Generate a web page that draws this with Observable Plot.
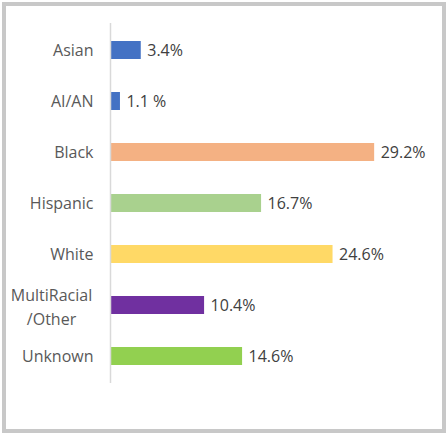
<!DOCTYPE html>
<html>
<head>
<meta charset="utf-8">
<script src="https://cdn.jsdelivr.net/npm/d3@7"></script>
<script src="https://cdn.jsdelivr.net/npm/@observablehq/plot@0.6"></script>
<style>
  html, body { margin: 0; padding: 0; background: #fff; }
  #wrap { position: relative; width: 446px; height: 434px; }
  #border { position: absolute; left: 2px; top: 2px; width: 436px; height: 423px; border: 4px solid #c8c8c8; }
  #chart { position: absolute; left: 0; top: 0; }
</style>
</head>
<body>
<div id="wrap"><div id="border"></div><div id="chart"></div></div>
<script>
const categories = ["Asian", "AI/AN", "Black", "Hispanic", "White", "MultiRacial/Other", "Unknown"];
const axisLabels = ["Asian", "AI/AN", "Black", "Hispanic", "White", "MultiRacial\n/Other", "Unknown"];
const values = [3.4, 1.1, 29.2, 16.7, 24.6, 10.4, 14.6];
const valueLabels = ["3.4%", "1.1 %", "29.2%", "16.7%", "24.6%", "10.4%", "14.6%"];
const colors = ["#4472C4", "#4472C4", "#F4B183", "#A9D18E", "#FFD966", "#7030A0", "#92D050"];

const data = categories.map((c, i) => ({cat: c, label: axisLabels[i], value: values[i], vlabel: valueLabels[i], color: colors[i]}));
const single = data.filter(d => !d.label.includes("\n"));
const wrapped = data.filter(d => d.label.includes("\n"));

const font = "'Open Sans', sans-serif";
const chart = Plot.plot({
  width: 446,
  height: 434,
  marginLeft: 110,
  marginRight: 4,
  marginTop: 23,
  marginBottom: 51,
  style: {fontFamily: font, fontSize: "16px", background: "transparent"},
  x: {domain: [0, 36.7], axis: null},
  y: {domain: categories, paddingInner: 0.646, paddingOuter: 0.335, axis: null},
  marks: [
    Plot.barX(data, {x: "value", y: "cat", fill: "color", insetLeft: 1}),
    Plot.ruleX([0], {stroke: "#d9d9d9", strokeWidth: 1.5}),
    Plot.text(single, {x: 0, y: "cat", text: "label", textAnchor: "end", dx: -17, fill: "#595959", fontSize: 16}),
    Plot.text(wrapped, {x: 0, y: "cat", text: "label", textAnchor: "middle", dx: -59, lineHeight: 1.45, fill: "#595959", fontSize: 16}),
    Plot.text(data, {x: "value", y: "cat", text: "vlabel", textAnchor: "start", dx: 6, fill: "#404040", fontSize: 16})
  ]
});
document.getElementById("chart").appendChild(chart);
</script>
</body>
</html>
